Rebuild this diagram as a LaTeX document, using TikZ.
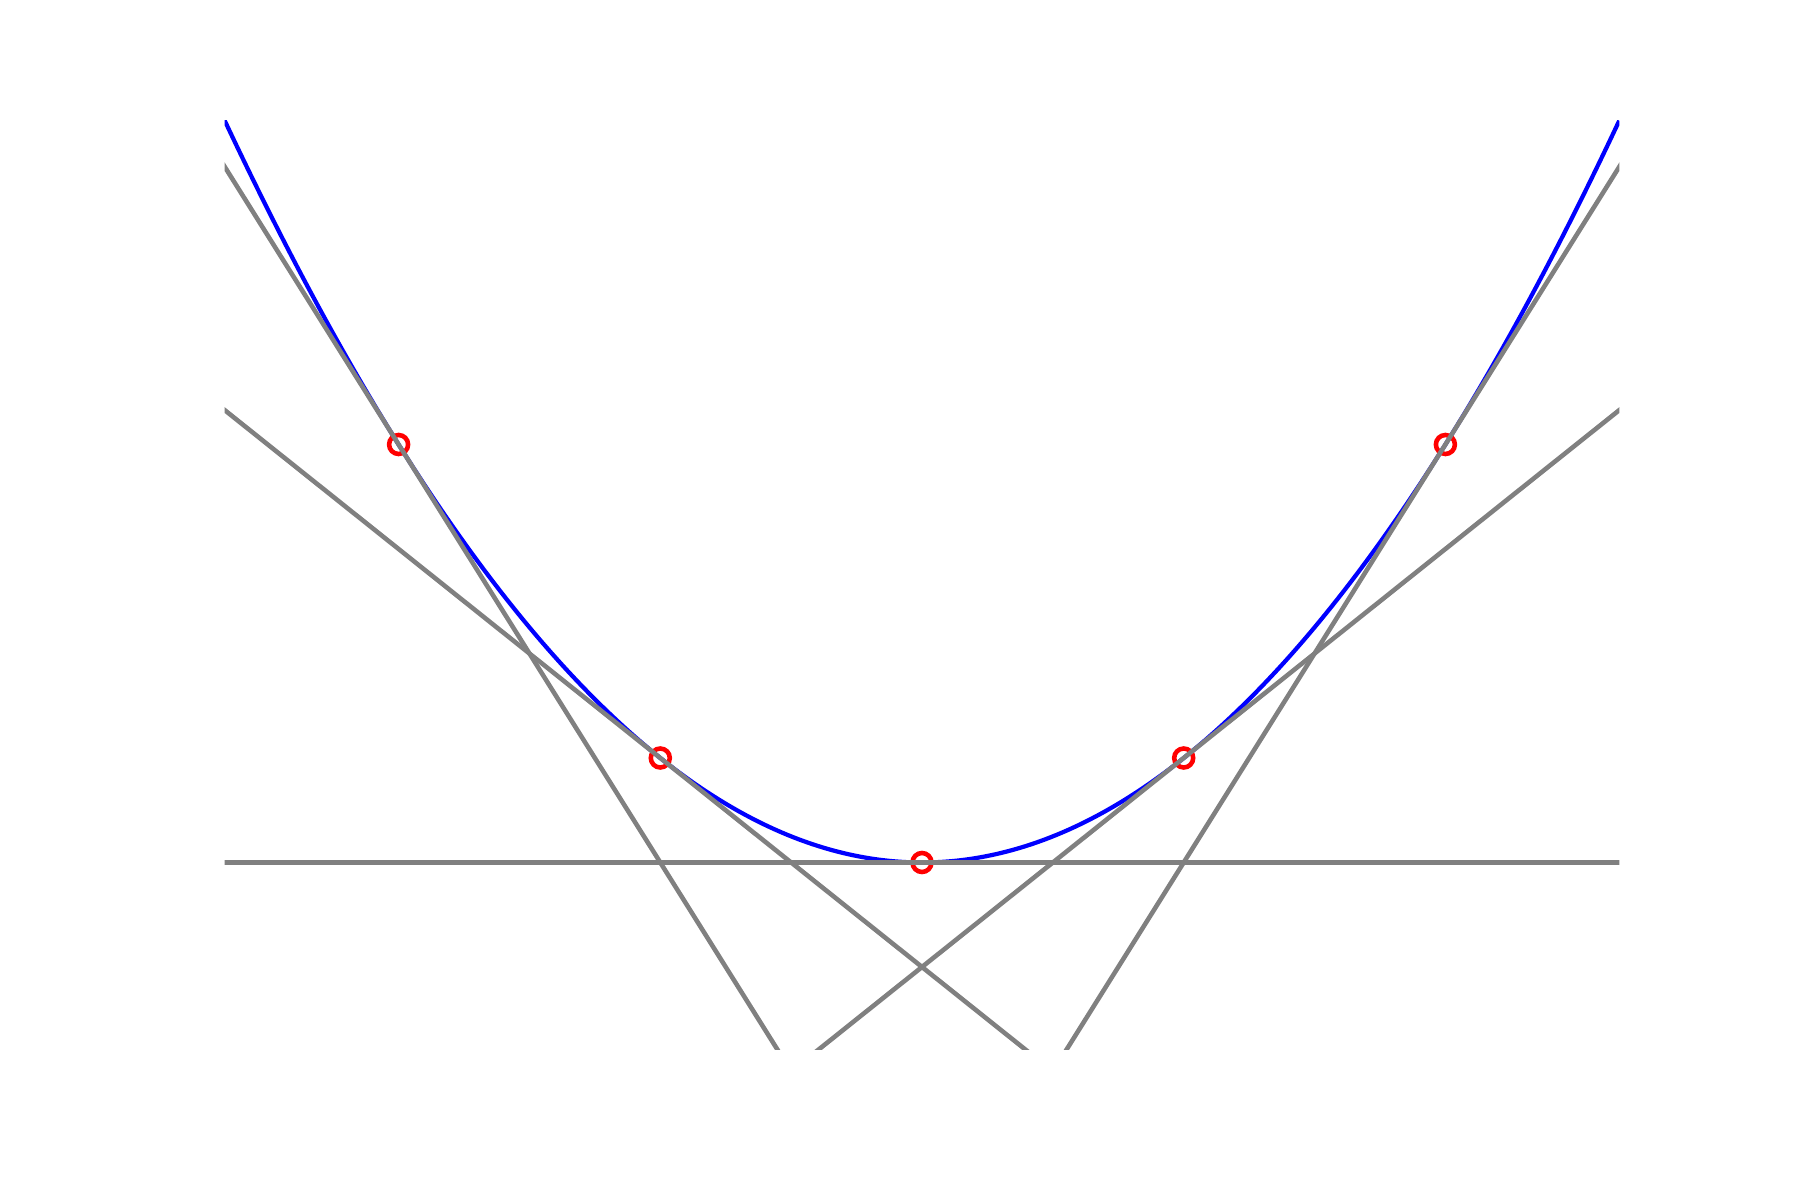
\documentclass[tikz,border=0pt]{standalone}
\usepackage{tikz}
\begin{document}
\begin{tikzpicture}[
  curve/.style={blue, line width=1.2pt},
  tang/.style={gray, line width=1.3pt},
  dot/.style={draw=red, line width=1.3pt, circle, minimum size=1.9mm, inner sep=0pt}]
\useasboundingbox (0,0) rectangle (18,12);
\begin{scope}[shift={(9.22,3.375)}, x=2.617cm, y=1.045cm]
  \clip (-2.665,-1.794) rectangle (2.665,7.105);
  % parabola
  \draw[curve] plot[domain=-2.665:2.665, samples=120, smooth] (\x,{\x*\x});
  % touching points
  \foreach \a in {-2,...,2} {
    \coordinate (p\a) at (\a,{\a*\a});
    \node[dot] (c\a) at (p\a) {};
  }
  % tangents
  \foreach \a in {-2,...,2} {
    \coordinate (l\a) at (-2.7,{-2.7*2*\a-\a*\a});
    \coordinate (r\a) at (2.7,{2.7*2*\a-\a*\a});
    \draw[tang] (l\a) -- (r\a);
  }
\end{scope}
\end{tikzpicture}
\end{document}
